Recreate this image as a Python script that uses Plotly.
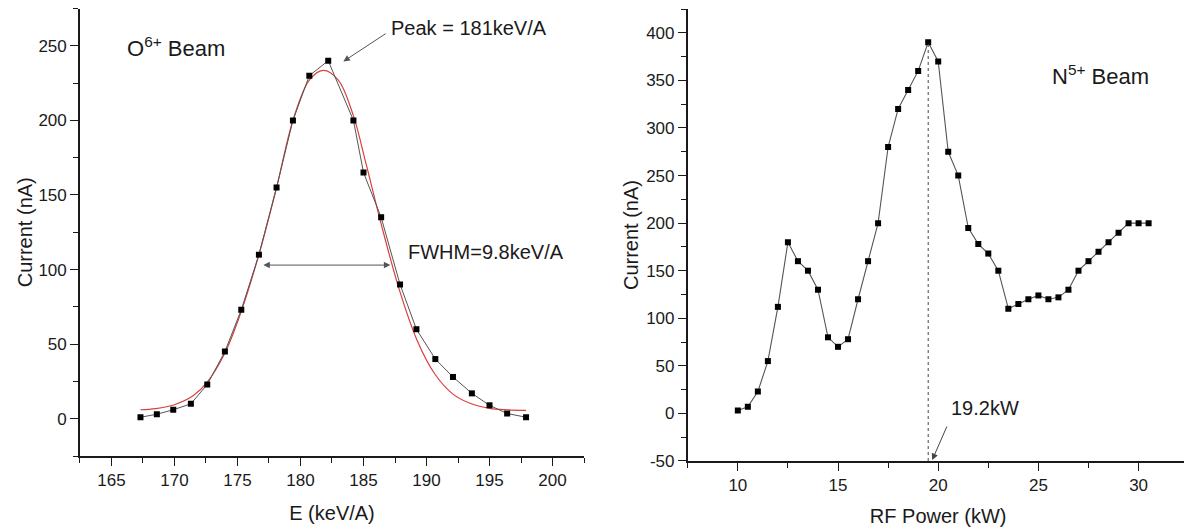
"""
Beam current scans: O6+ energy scan with Gaussian fit, N5+ RF power scan.
"""

import plotly.graph_objects as go
from plotly.subplots import make_subplots

FONT = "Liberation Sans, Arial, sans-serif"
INK = "#1a1a1a"

# page body keeps its default 8px margin, so the figure is 8px smaller
W, H = 1184, 524

# left panel: O6+ beam energy scan
energy = [167.3, 168.6, 169.9, 171.3, 172.6, 174.0, 175.3, 176.7, 178.1, 179.4,
          180.7, 182.2, 184.2, 185.0, 186.4, 187.9, 189.2, 190.7, 192.1, 193.6,
          195.0, 196.4, 197.9]
o6_current = [1, 3, 6, 10, 23, 45, 73, 110, 155, 200,
              230, 240, 200, 165, 135, 90, 60, 40, 28, 17,
              9, 3.5, 1]

# red fit curve
fit_energy = [167.3, 168.5, 170.0, 171.5, 172.6, 174.0, 175.3, 176.7, 178.1, 179.4,
              180.7, 181.8, 183.0, 184.2, 185.2, 186.45, 187.86, 189.23, 190.66,
              192.1, 193.56, 195.0, 196.4, 197.9]
fit_current = [6.0, 6.8, 9.4, 15.5, 24.5, 44, 72, 110, 155, 200,
               227, 233.5, 227, 203, 171, 129, 86, 53, 30,
               16.5, 10, 7, 6, 5.6]

# right panel: N5+ beam vs RF power
rf_power = [10, 10.5, 11, 11.5, 12, 12.5, 13, 13.5, 14, 14.5,
            15, 15.5, 16, 16.5, 17, 17.5, 18, 18.5, 19, 19.5,
            20, 20.5, 21, 21.5, 22, 22.5, 23, 23.5, 24, 24.5,
            25, 25.5, 26, 26.5, 27, 27.5, 28, 28.5, 29, 29.5,
            30, 30.5]
n5_current = [3, 7, 23, 55, 112, 180, 160, 150, 130, 80,
              70, 78, 120, 160, 200, 280, 320, 340, 360, 390,
              370, 275, 250, 195, 178, 168, 150, 110, 115, 120,
              124, 120, 122, 130, 150, 160, 170, 180, 190, 200,
              200, 200]

right_yticks = [-50, 0, 50, 100, 150, 200, 250, 300, 350, 400]

fig = make_subplots(rows=1, cols=2)

fig.add_trace(go.Scatter(
    x=fit_energy, y=fit_current, mode="lines",
    line=dict(color="#d8403c", width=1.2, shape="spline", smoothing=1.0),
    showlegend=False,
), row=1, col=1)

fig.add_trace(go.Scatter(
    x=energy, y=o6_current, mode="lines+markers",
    line=dict(color="#555555", width=1),
    marker=dict(symbol="square", size=6, color="black"),
    showlegend=False,
), row=1, col=1)

fig.add_trace(go.Scatter(
    x=rf_power, y=n5_current, mode="lines+markers",
    line=dict(color="#555555", width=1.1),
    marker=dict(symbol="square", size=6, color="black"),
    showlegend=False,
), row=1, col=2)

# dotted line down from the N5+ maximum
i_peak = n5_current.index(max(n5_current))
fig.add_shape(
    type="line", xref="x2", yref="y2",
    x0=rf_power[i_peak], x1=rf_power[i_peak], y0=-50, y1=n5_current[i_peak],
    line=dict(color="#444444", width=1, dash="dot"),
)

axis_common = dict(
    showline=True, linecolor=INK, linewidth=1.6, mirror=False,
    showgrid=False, zeroline=False, automargin=False,
    ticks="outside", ticklen=8, tickwidth=1.4, tickcolor=INK,
    tickfont=dict(family=FONT, size=17, color=INK),
)

fig.update_xaxes(**axis_common)
fig.update_yaxes(**axis_common)

fig.update_layout(
    width=W, height=H,
    margin=dict(l=0, r=0, t=0, b=0),
    paper_bgcolor="white", plot_bgcolor="white",
    font=dict(family=FONT, color=INK),
    xaxis=dict(
        domain=[0.0608, 0.4865], range=[162.5, 202.5], dtick=5, tick0=165,
        minor=dict(dtick=2.5, ticklen=5, tickcolor=INK, ticks="outside"),
        title=dict(text="E (keV/A)", font=dict(size=20), standoff=17),
    ),
    yaxis=dict(
        domain=[0.145, 0.999], range=[-25, 275], dtick=50, tick0=0,
        minor=dict(dtick=25, ticklen=5, tickcolor=INK, ticks="outside"),
        title=dict(text="Current (nA)", font=dict(size=20), standoff=0),
    ),
    xaxis2=dict(
        domain=[0.5741, 0.9972], range=[7.5, 32.5], dtick=5, tick0=10,
        minor=dict(dtick=2.5, ticklen=5, tickcolor=INK, ticks="outside"),
        title=dict(text="RF Power (kW)", font=dict(size=20), standoff=15),
    ),
    yaxis2=dict(
        domain=[0.1355, 0.998], range=[-50, 425],
        tickmode="array", tickvals=right_yticks,
        ticktext=[str(v) for v in right_yticks],
        minor=dict(dtick=25, ticklen=5, tickcolor=INK, ticks="outside"),
        title=dict(text="Current (nA)", font=dict(size=20), standoff=2),
    ),
)

label_font = dict(family=FONT, size=20, color=INK)
beam_font = dict(family=FONT, size=22, color=INK)
arrow_style = dict(showarrow=True, arrowhead=2, arrowsize=1.3, arrowwidth=1,
                   arrowcolor="#555555")

fig.add_annotation(x=170.1, y=249.5, xref="x", yref="y", text="O<sup>6+</sup> Beam",
                   showarrow=False, font=beam_font)
# peak label and its arrow (the arrow carries no text of its own)
fig.add_annotation(x=193.4, y=262, xref="x", yref="y", text="Peak = 181keV/A",
                   showarrow=False, font=label_font)
fig.add_annotation(x=183.4, y=239.5, ax=186.8, ay=258.4, xref="x", yref="y",
                   axref="x", ayref="y", text="", font=dict(size=1), borderpad=0,
                   **arrow_style)
# FWHM label with the double-headed arrow to its left
fig.add_annotation(x=177.05, y=103, ax=188.4, ay=103, xref="x", yref="y",
                   axref="x", ayref="y", text="FWHM=9.8keV/A", font=label_font,
                   xanchor="left", yanchor="bottom",
                   arrowside="end+start", startstandoff=16, **arrow_style)

fig.add_annotation(x=28.1, y=356, xref="x2", yref="y2", text="N<sup>5+</sup> Beam",
                   showarrow=False, font=beam_font)
fig.add_annotation(x=19.7, y=-49, ax=20.55, ay=-8, xref="x2", yref="y2",
                   axref="x2", ayref="y2", text="19.2kW", font=label_font,
                   xanchor="left", yanchor="bottom", startstandoff=6,
                   **dict(arrow_style, arrowcolor="#444444"))

fig.write_html("out.html")
